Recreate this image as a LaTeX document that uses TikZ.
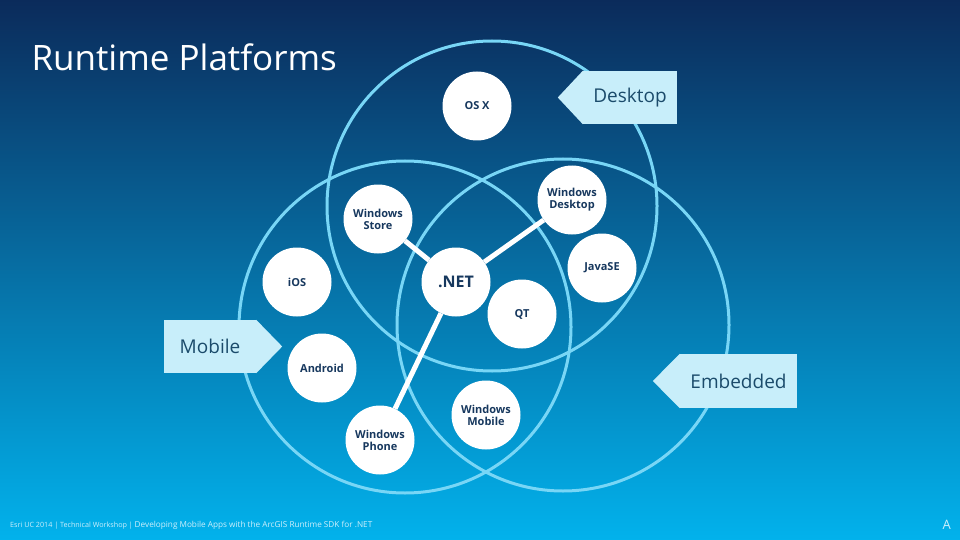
\documentclass[tikz,border=0pt]{standalone}
\usepackage{fontspec}
\setmainfont{Open Sans}
\usetikzlibrary{positioning}

\definecolor{bgtop}{HTML}{0B2B5B}
\definecolor{bgmid}{HTML}{0A62AA}
\definecolor{bgbot}{HTML}{02B2EC}
\definecolor{ringblue}{HTML}{78D6F6}
\definecolor{tagfill}{HTML}{C8EEFA}
\definecolor{tagtext}{HTML}{1B4B6B}
\definecolor{nodetext}{HTML}{17385E}
\definecolor{foottext}{HTML}{CDEFFC}

\tikzset{
  ring/.style={draw=ringblue, line width=3pt},
  platform/.style={circle, fill=white, minimum size=69pt, inner sep=0pt, align=center,
    text=nodetext, font=\bfseries\fontsize{11}{12}\selectfont},
  link/.style={draw=white, line width=5pt},
  tag/.style={rectangle, fill=tagfill, text=tagtext, minimum height=53pt, inner sep=0pt,
    font=\fontsize{19}{20}\selectfont},
}

\begin{document}
\begin{tikzpicture}[x=1pt,y=-1pt]
    % Background
    \shade[top color=bgtop, middle color=bgmid, bottom color=bgbot] (0,0) rectangle (960,540);
    \useasboundingbox (0,0) rectangle (960,540);

    % Title
    \node[anchor=base west, text=white, font=\fontsize{35}{40}\selectfont] (title) at (28,71) {Runtime Platforms};

    % Three platform rings
    \draw[ring] (492,206) circle (165pt);
    \draw[ring] (405,327) circle (166pt);
    \draw[ring] (563,325) circle (166pt);

    % Platforms
    \node[platform] (osx) at (477,106) {OS X};
    \node[platform] (windesktop) at (572,200) {Windows\\Desktop};
    \node[platform] (winstore) at (378,219) {Windows\\Store};
    \node[platform, font=\bfseries\fontsize{16}{18}\selectfont] (net) at (456,282) {.NET};
    \node[platform] (ios) at (297,282) {iOS};
    \node[platform] (javase) at (602,268) {JavaSE};
    \node[platform] (qt) at (522,314) {QT};
    \node[platform] (android) at (322,368) {Android};
    \node[platform] (winmobile) at (486,415) {Windows\\Mobile};
    \node[platform] (winphone) at (380,440) {Windows\\Phone};

    % Links from .NET
    \foreach \target in {winstore,windesktop,winphone}
        \draw[link] (net) -- (\target);

    % Ring labels
    \node[tag, minimum width=94pt] (desktop) at (630,97.5) {Desktop};
    \fill[tagfill] (desktop.north west) -- ([xshift=-25pt]desktop.west) -- (desktop.south west) -- cycle;
    \node[tag, minimum width=92pt] (mobile) at (210,346.5) {Mobile};
    \fill[tagfill] (mobile.north east) -- ([xshift=26pt]mobile.east) -- (mobile.south east) -- cycle;
    \node[tag, minimum width=117pt, minimum height=54pt] (embedded) at (738.5,381) {Embedded};
    \fill[tagfill] (embedded.north west) -- ([xshift=-27pt]embedded.west) -- (embedded.south west) -- cycle;

    % Footer
    \node[anchor=base west, text=foottext, inner sep=0pt, font=\fontsize{7.2}{8}\selectfont] (footer) at (10,527)
        {Esri UC 2014 | Technical Workshop | {\fontsize{8.2}{9}\selectfont Developing Mobile Apps with the ArcGIS Runtime SDK for .NET}};
    \node[anchor=base east, text=foottext, inner sep=0pt, font=\fontsize{13}{14}\selectfont] (slidemark) at (951,529) {A};
\end{tikzpicture}
\end{document}
